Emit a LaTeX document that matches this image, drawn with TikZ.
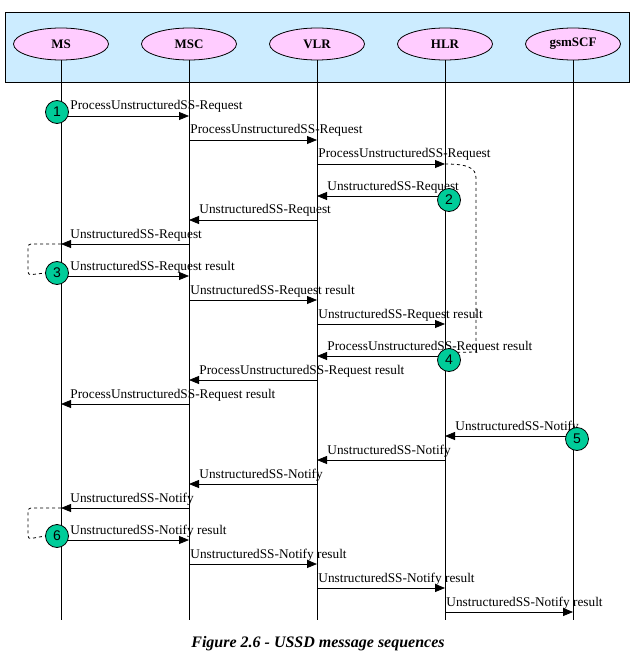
\documentclass[tikz,border=0pt]{standalone}
\usepackage{fontspec}
\setmainfont{Liberation Serif}
\newfontfamily\stepfont{Liberation Sans}
\usetikzlibrary{arrows.meta, shapes.geometric}
\definecolor{panelblue}{HTML}{CCECFF}
\definecolor{entitypink}{HTML}{FFCCFF}
\definecolor{stepgreen}{HTML}{00CC99}
\tikzstyle{entity}=[ellipse, draw, fill=entitypink, minimum width=95pt, minimum height=32pt, inner sep=0pt, font=\bfseries\fontsize{13}{13}\selectfont]
\tikzstyle{msg}=[-{Triangle[length=10pt, width=8pt]}]
\tikzstyle{msglabel}=[anchor=base west, inner sep=0pt, font=\fontsize{13.3}{13.3}\selectfont]
\tikzstyle{stepmark}=[circle, draw, fill=stepgreen, minimum size=23pt, inner sep=0pt, font=\stepfont\fontsize{14}{14}\selectfont]
\tikzstyle{loopback}=[dashed, rounded corners=3pt]

\begin{document}
\begin{tikzpicture}[x=1pt, y=-1pt, line width=0.8pt]
    \useasboundingbox (0, 0) rectangle (635, 660);
% Header
    \draw[fill=panelblue] (5, 12) rectangle (629, 82);
    \node[entity] (ms)  at (61, 44)  {MS};
    \node[entity] (msc) at (189, 44) {MSC};
    \node[entity] (vlr) at (317, 44) {VLR};
    \node[entity] (hlr) at (445, 44) {HLR};
    \node[entity] (scf) at (573, 44) {gsmSCF};
% Lifelines
    \draw (ms.south)  -- (ms.south |- 0, 620);
    \draw (msc.south) -- (msc.south |- 0, 620);
    \draw (vlr.south) -- (vlr.south |- 0, 620);
    \draw (hlr.south) -- (hlr.south |- 0, 620);
    \draw (scf.south) -- (scf.south |- 0, 620);
% Request
    \draw[msg] (ms |- 0, 116) -- (msc |- 0, 116);
    \node[msglabel] (m1) at (70, 110) {ProcessUnstructuredSS-Request};
    \draw[msg] (msc |- 0, 140) -- (vlr |- 0, 140);
    \node[msglabel] (m2) at (190, 134) {ProcessUnstructuredSS-Request};
    \draw[msg] (vlr |- 0, 164) -- (hlr |- 0, 164);
    \node[msglabel] (m3) at (318, 158) {ProcessUnstructuredSS-Request};
    \draw[msg] (hlr |- 0, 196) -- (vlr |- 0, 196);
    \node[msglabel] (m4) at (327, 190) {UnstructuredSS-Request};
    \draw[msg] (vlr |- 0, 220) -- (msc |- 0, 220);
    \node[msglabel] (m5) at (199, 214) {UnstructuredSS-Request};
    \draw[msg] (msc |- 0, 244) -- (ms |- 0, 244);
    \node[msglabel] (m6) at (70, 238) {UnstructuredSS-Request};
    \draw[msg] (ms |- 0, 276) -- (msc |- 0, 276);
    \node[msglabel] (m7) at (70, 270) {UnstructuredSS-Request result};
    \draw[msg] (msc |- 0, 300) -- (vlr |- 0, 300);
    \node[msglabel] (m8) at (190, 294) {UnstructuredSS-Request result};
    \draw[msg] (vlr |- 0, 324) -- (hlr |- 0, 324);
    \node[msglabel] (m9) at (318, 318) {UnstructuredSS-Request result};
    \draw[msg] (hlr |- 0, 356) -- (vlr |- 0, 356);
    \node[msglabel] (m10) at (327, 350) {ProcessUnstructuredSS-Request result};
    \draw[msg] (vlr |- 0, 380) -- (msc |- 0, 380);
    \node[msglabel] (m11) at (199, 374) {ProcessUnstructuredSS-Request result};
    \draw[msg] (msc |- 0, 404) -- (ms |- 0, 404);
    \node[msglabel] (m12) at (70, 398) {ProcessUnstructuredSS-Request result};
% Notify
    \draw[msg] (scf |- 0, 436) -- (hlr |- 0, 436);
    \node[msglabel] (m13) at (455, 430) {UnstructuredSS-Notify};
    \draw[msg] (hlr |- 0, 460) -- (vlr |- 0, 460);
    \node[msglabel] (m14) at (327, 454) {UnstructuredSS-Notify};
    \draw[msg] (vlr |- 0, 484) -- (msc |- 0, 484);
    \node[msglabel] (m15) at (199, 478) {UnstructuredSS-Notify};
    \draw[msg] (msc |- 0, 508) -- (ms |- 0, 508);
    \node[msglabel] (m16) at (70, 502) {UnstructuredSS-Notify};
    \draw[msg] (ms |- 0, 540) -- (msc |- 0, 540);
    \node[msglabel] (m17) at (70, 534) {UnstructuredSS-Notify result};
    \draw[msg] (msc |- 0, 564) -- (vlr |- 0, 564);
    \node[msglabel] (m18) at (190, 558) {UnstructuredSS-Notify result};
    \draw[msg] (vlr |- 0, 588) -- (hlr |- 0, 588);
    \node[msglabel] (m19) at (318, 582) {UnstructuredSS-Notify result};
    \draw[msg] (hlr |- 0, 612) -- (scf |- 0, 612);
    \node[msglabel] (m20) at (446, 606) {UnstructuredSS-Notify result};
% Steps
    \node[stepmark] (s1) at (57, 112) {1};
    \node[stepmark] (s2) at (449, 200) {2};
    \node[stepmark] (s3) at (57, 273) {3};
    \node[stepmark] (s4) at (449, 360) {4};
    \node[stepmark] (s5) at (577, 439) {5};
    \node[stepmark] (s6) at (57, 536) {6};
% Dialogue loops
    \draw[loopback] (ms |- 0, 244) -- (28, 244) -- (28, 275) -- (s3.west);
    \draw[loopback] (ms |- 0, 508) -- (28, 508) -- (28, 539) -- (s6.west);
    \draw[dashed] (hlr |- 0, 164) .. controls (468, 164) and (476, 168) .. (476, 178)
        -- (476, 352) -- (s4.40);
% Caption
    \node[font=\bfseries\itshape\fontsize{16}{16}\selectfont, anchor=base] (caption) at (318, 647) {Figure 2.6 - USSD message sequences};
\end{tikzpicture}
\end{document}
